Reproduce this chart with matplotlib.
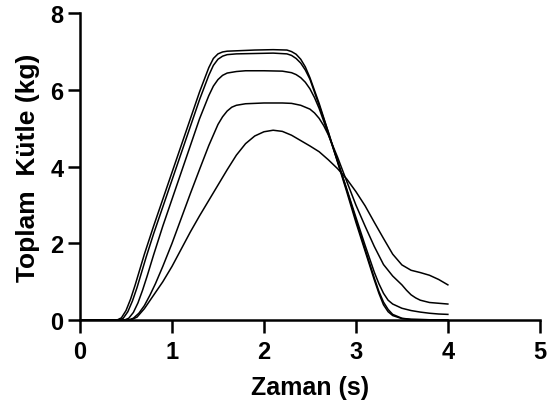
import matplotlib
matplotlib.use('Agg')
import matplotlib.pyplot as plt

plt.rcParams['font.family'] = ['Liberation Sans', 'DejaVu Sans']
plt.rcParams['font.weight'] = 'bold'

# trial 1 (highest plateau)
t1 = [0, 0.4, 0.45, 0.5, 0.55, 0.6, 0.65, 0.7, 0.8, 0.9,
      1.0, 1.1, 1.2, 1.3, 1.4, 1.45, 1.5, 1.55, 1.6, 1.7,
      1.9, 2.1, 2.25, 2.3, 2.35, 2.4, 2.45, 2.5, 2.6, 2.7,
      2.8, 2.9, 3.0, 3.1, 3.2, 3.25, 3.3, 3.35, 3.4, 3.5,
      3.6, 3.8, 4.0]
m1 = [0, 0, 0.06, 0.25, 0.55, 0.92, 1.32, 1.72, 2.45, 3.15,
      3.85, 4.55, 5.25, 5.95, 6.58, 6.82, 6.94, 6.99, 7.01, 7.02,
      7.04, 7.05, 7.04, 7.0, 6.93, 6.8, 6.6, 6.32, 5.65, 4.9,
      4.12, 3.35, 2.55, 1.8, 1.05, 0.7, 0.4, 0.22, 0.12, 0.04,
      0.02, 0.01, 0.0]

# trial 2
t2 = [0, 0.42, 0.47, 0.52, 0.57, 0.62, 0.67, 0.72, 0.8, 0.9,
      1.0, 1.1, 1.2, 1.3, 1.4, 1.45, 1.5, 1.55, 1.6, 1.7,
      1.9, 2.1, 2.25, 2.3, 2.35, 2.4, 2.45, 2.5, 2.6, 2.7,
      2.8, 2.9, 3.0, 3.1, 3.2, 3.25, 3.3, 3.35, 3.4, 3.5,
      3.6, 3.8, 4.0]
m2 = [0, 0, 0.05, 0.22, 0.5, 0.85, 1.25, 1.65, 2.25, 2.95,
      3.65, 4.35, 5.05, 5.75, 6.38, 6.64, 6.8, 6.88, 6.92, 6.94,
      6.95, 6.96, 6.94, 6.9, 6.82, 6.7, 6.52, 6.28, 5.6, 4.9,
      4.15, 3.4, 2.62, 1.85, 1.1, 0.75, 0.47, 0.28, 0.15, 0.05,
      0.02, 0.01, 0.01]

# trial 3
t3 = [0, 0.48, 0.53, 0.58, 0.63, 0.68, 0.73, 0.8, 0.9, 1.0,
      1.1, 1.2, 1.3, 1.4, 1.45, 1.5, 1.55, 1.6, 1.7, 1.8,
      2.0, 2.2, 2.3, 2.35, 2.4, 2.45, 2.5, 2.55, 2.6, 2.7,
      2.8, 2.9, 3.0, 3.1, 3.2, 3.25, 3.3, 3.35, 3.4, 3.5,
      3.6, 3.7, 3.8, 3.9, 4.0]
m3 = [0, 0, 0.05, 0.2, 0.45, 0.78, 1.15, 1.7, 2.45, 3.15,
      3.85, 4.55, 5.25, 5.85, 6.1, 6.27, 6.38, 6.44, 6.48, 6.5,
      6.5, 6.49, 6.45, 6.4, 6.32, 6.2, 6.03, 5.8, 5.52, 4.85,
      4.15, 3.42, 2.68, 1.95, 1.25, 0.95, 0.7, 0.52, 0.42, 0.31,
      0.25, 0.21, 0.18, 0.16, 0.15]

# trial 4
t4 = [0, 0.52, 0.58, 0.64, 0.7, 0.76, 0.82, 0.9, 1.0, 1.1,
      1.2, 1.3, 1.4, 1.5, 1.55, 1.6, 1.65, 1.7, 1.8, 2.0,
      2.2, 2.3, 2.4, 2.5, 2.55, 2.6, 2.65, 2.7, 2.8, 2.9,
      3.0, 3.1, 3.2, 3.3, 3.4, 3.5, 3.55, 3.6, 3.65, 3.7,
      3.8, 3.9, 4.0]
m4 = [0, 0, 0.05, 0.18, 0.38, 0.65, 0.95, 1.4, 2.0, 2.65,
      3.3, 3.93, 4.55, 5.1, 5.3, 5.45, 5.55, 5.6, 5.64, 5.66,
      5.66, 5.65, 5.6, 5.5, 5.4, 5.26, 5.07, 4.83, 4.25, 3.62,
      3.0, 2.45, 1.92, 1.45, 1.15, 0.92, 0.78, 0.66, 0.58, 0.52,
      0.46, 0.44, 0.42]

# trial 5 (lowest peak)
t5 = [0, 0.55, 0.62, 0.7, 0.8, 0.9, 1.0, 1.1, 1.2, 1.3,
      1.4, 1.5, 1.6, 1.7, 1.8, 1.9, 2.0, 2.1, 2.2, 2.3,
      2.4, 2.5, 2.6, 2.7, 2.8, 2.9, 3.0, 3.1, 3.2, 3.3,
      3.4, 3.5, 3.6, 3.7, 3.8, 3.9, 4.0]
m5 = [0, 0, 0.08, 0.3, 0.65, 1.0, 1.4, 1.85, 2.3, 2.72,
      3.12, 3.52, 3.92, 4.3, 4.6, 4.8, 4.91, 4.95, 4.92, 4.82,
      4.68, 4.54, 4.39, 4.18, 3.95, 3.68, 3.35, 2.98, 2.55, 2.13,
      1.72, 1.44, 1.3, 1.24, 1.17, 1.06, 0.92]

fig = plt.figure(figsize=(5.5, 4.06), dpi=100)
ax = fig.add_axes([0.1455, 0.209, 0.836, 0.756])

for t, m in [(t1, m1), (t2, m2), (t3, m3), (t4, m4), (t5, m5)]:
    ax.plot(t, m, color='black', lw=1.1, clip_on=False)

ax.set_xlim(0, 5)
ax.set_ylim(0, 8)
ax.set_xticks([0, 1, 2, 3, 4, 5])
ax.set_yticks([0, 2, 4, 6, 8])
ax.spines['top'].set_visible(False)
ax.spines['right'].set_visible(False)
ax.spines['left'].set_linewidth(1.8)
ax.spines['bottom'].set_linewidth(1.8)
ax.tick_params(direction='out', length=9, width=1.8, labelsize=17)
ax.tick_params(axis='x', pad=5)
ax.tick_params(axis='y', pad=3)
ax.set_xlabel('Zaman (s)', fontsize=18, fontweight='bold', labelpad=9)
ax.set_ylabel('Toplam  Kütle (kg)', fontsize=19, fontweight='bold', labelpad=7)

plt.savefig('out.png', dpi=100)
